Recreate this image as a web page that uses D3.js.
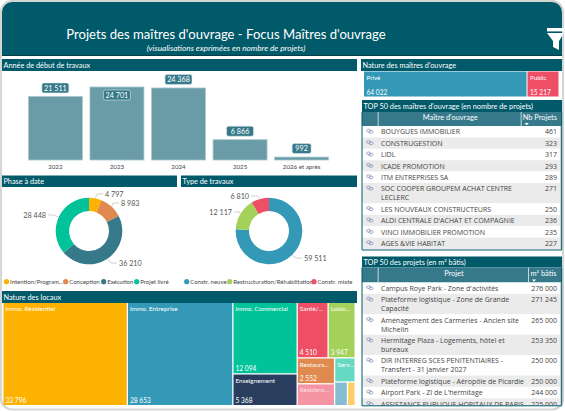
<!DOCTYPE html>
<html><head><meta charset="utf-8">
<script src="https://cdn.jsdelivr.net/npm/d3@7"></script>
<style>html,body{margin:0;padding:0;background:#fff;overflow:hidden}svg{display:block}text{font-family:Lato,"Open Sans",sans-serif}text.cell{font-family:"Open Sans",sans-serif}</style>
</head><body><svg id="c" width="565" height="412"></svg>
<script>
const titleMain="Projets des maîtres d'ouvrage - Focus Maîtres d'ouvrage";
const titleSub="(visualisations exprimées en nombre de projets)";
const yearCats=["2022","2023","2024","2025","2026 et après"];
const yearVals=[21511,24701,24368,6866,992];
const phaseCats=["Intention/Program...","Conception","Exécution","Projet livré"];
const phaseVals=[4797,8983,36210,28448];
const phaseCols=["#fdb100","#e08a50","#35798a","#00c39a"];
const typeCats=["Constr. neuve","Restructuration/Réhabilitation","Constr. mixte"];
const typeVals=[59511,12117,6810];
const typeCols=["#3498b7","#a3d15a","#ee4e66"];
const ownerCats=["Privé","Public"];
const ownerVals=[64022,15217];
const ownerCols=["#3498b7","#ee4e66"];
const topOwners=["BOUYGUES IMMOBILIER","CONSTRUGESTION","LIDL","ICADE PROMOTION","ITM ENTREPRISES SA","SOC COOPER GROUPEM ACHAT CENTRE LECLERC","LES NOUVEAUX CONSTRUCTEURS","ALDI CENTRALE D'ACHAT ET COMPAGNIE","VINCI IMMOBILIER PROMOTION","AGES &VIE HABITAT"];
const topOwnerVals=[461,323,317,293,289,271,250,236,235,227];
const topProjects=["Campus Roye Park - Zone d'activités","Plateforme logistique - Zone de Grande Capacité","Aménagement des Carmeries - Ancien site Michelin","Hermitage Plaza - Logements, hôtel et bureaux","DIR INTERREG SCES PENITENTIAIRES - Transfert - 31 janvier 2027","Plateforme logistique - Aéropôle de Picardie","Airport Park - ZI de L'hermitage","ASSISTANCE PUBLIQUE HOPITAUX DE PARIS -"];
const topProjectVals=[276000,271245,265000,253350,250000,250000,244000,225000];
const fmt=v=>String(v).replace(/\B(?=(\d{3})+$)/g," ");
const TEAL="#015a69",MID="#35798a",BAR="#6a9ca8";
const svg=d3.select("#c");
// frame
svg.append("rect").attr("width",565).attr("height",412).attr("fill","#fff");
svg.append("rect").attr("x",1).attr("y",1).attr("width",562).attr("height",408.5).attr("rx",11).attr("fill","#fff").attr("stroke","#d6d6d2").attr("stroke-width",2.2);
const defs=svg.append("defs");
defs.append("clipPath").attr("id","hc").append("path").attr("d","M2,56V12A10,10 0 0 1 12,2H552A10,10 0 0 1 562,12V56Z");
defs.append("clipPath").attr("id","t1").append("rect").attr("x",362).attr("y",112).attr("width",200).attr("height",137.5);
defs.append("clipPath").attr("id","t2").append("rect").attr("x",362).attr("y",267).attr("width",200).attr("height",138.5);
const hdr=svg.append("g").attr("clip-path","url(#hc)");
hdr.append("rect").attr("x",2).attr("y",2).attr("width",560).attr("height",54).attr("fill",TEAL);
hdr.append("rect").attr("x",2).attr("y",55).attr("width",560).attr("height",1).attr("fill","#0b3b46");
svg.append("text").attr("x",226).attr("y",38.5).attr("text-anchor","middle").attr("fill","#fff").attr("font-size",13.1).text(titleMain);
svg.append("text").attr("x",226).attr("y",50.5).attr("text-anchor","middle").attr("fill","#fff").attr("font-size",8.2).attr("font-style","italic").text(titleSub);
svg.append("rect").attr("x",547).attr("y",28).attr("width",17).attr("height",3.4).attr("fill","#fff");
svg.append("path").attr("d",d3.line()([[547,33],[564,33],[559,41],[559,50],[553,47],[553,41]])+"Z").attr("fill","#fff");
function section(x,y,w,h,t){
 svg.append("rect").attr("x",x).attr("y",y).attr("width",w).attr("height",h).attr("fill",TEAL);
 svg.append("text").attr("x",x+1.5).attr("y",y+h/2+2.7).attr("fill","#fff").attr("font-size",7.3).text(t);
}
section(2,59,355,12,"Année de début de travaux");
section(2,175.5,175,11.5,"Phase à date");
section(181,175.5,176,11.5,"Type de travaux");
section(2,291,355,12,"Nature des locaux");
section(361,59,201,12,"Nature des maîtres d'ouvrage");
section(362,100,200,12,"TOP 50 des maîtres d'ouvrage (en nombre de projets)");
section(362,256.5,200,11,"TOP 50 des projets (en m² bâtis)");
// bars
const xB=d3.scaleBand().domain(yearCats).range([25,332]).paddingInner(0.123).paddingOuter(0.055);
const yB=d3.scaleLinear().domain([0,24701]).range([160,87]);
const bg=svg.append("g");
bg.selectAll("rect").data(yearVals).join("rect").attr("x",(d,i)=>xB(yearCats[i])).attr("y",d=>yB(d)).attr("width",xB.bandwidth()).attr("height",d=>160-yB(d)).attr("fill",BAR).attr("stroke","#a9c8cf").attr("stroke-width",.8);
const labelOffset=[-8.5,8,-8.5,-8.5,-8.5];
yearVals.forEach((v,i)=>{
 const cx=xB(yearCats[i])+xB.bandwidth()/2,cy=yB(v)+labelOffset[i],w=fmt(v).length>3?27:19;
 svg.append("rect").attr("x",cx-w/2).attr("y",cy-5).attr("width",w).attr("height",10).attr("rx",2).attr("fill",MID).attr("stroke","#dbe8eb").attr("stroke-width",.6);
 svg.append("text").attr("x",cx).attr("y",cy+2.6).attr("text-anchor","middle").attr("fill","#fff").attr("font-size",7.2).text(fmt(v));
 svg.append("text").attr("x",cx).attr("y",168.5).attr("text-anchor","middle").attr("fill","#444").attr("font-size",6.2).text(yearCats[i]);
});
// donuts
function donut(cx,cy,vals,cols,ends){
 const arcs=d3.pie().sort(null)(vals);
 const arc=d3.arc().innerRadius(20).outerRadius(33.3);
 const lead=d3.arc().innerRadius(33.8).outerRadius(33.8);
 const g=svg.append("g").attr("transform",`translate(${cx},${cy})`);
 g.selectAll("path.s").data(arcs).join("path").attr("class","s").attr("d",arc).attr("fill",(d,i)=>cols[i]);
 arcs.forEach((a,i)=>{
  const p=lead.centroid(a),e=ends[i],right=e[0]>0;
  const kink=[e[0]+(right?-6:6),e[1]];
  g.append("path").attr("d",d3.line()([p,kink,[e[0],e[1]]])).attr("fill","none").attr("stroke","#bbb").attr("stroke-width",.7);
  g.append("text").attr("x",e[0]+(right?2:-2)).attr("y",e[1]+2.7).attr("text-anchor",right?"start":"end").attr("fill","#555").attr("font-size",7.2).text(fmt(vals[i]));
 });
}
donut(89,231,phaseVals,phaseCols,[[14,-37],[30,-28],[28,32],[-41,-16]]);
donut(269,231,typeVals,typeCols,[[33,27],[-35,-19],[-18,-35]]);
function legend(cats,cols,xs){cats.forEach((c,i)=>{
 svg.append("circle").attr("cx",xs[i]).attr("cy",281.7).attr("r",2.6).attr("fill",cols[i]);
 svg.append("text").attr("x",xs[i]+3.5).attr("y",284).attr("fill","#444").attr("font-size",6).text(c);
});}
legend(phaseCats,phaseCols,[6.5,65.7,103.7,136.7]);
legend(typeCats,typeCols,[186.7,229.7,314]);
// treemap
const tree={name:"root",children:[
 {name:"Immo. Résidentiel",value:33796},
 {name:"Immo. Entreprise",value:28653},
 {children:[{name:"Immo. Commercial",value:12094},{name:"Enseignement",value:5368}]},
 {children:[
  {children:[{name:"Santé/...",value:4510},{name:"Loisir...",value:3947}]},
  {children:[
   {children:[{name:"Restaura...",value:2552},{name:"Résidenc...",value:2150,hide:true}]},
   {children:[{name:"Serv...",value:1300,hide:true},{children:[{name:"",value:800,hide:true},{name:"",value:480,hide:true}]}]}
  ]}
 ]}
]};
const treeCols=["#fdb100","#3498b7","#00c39a","#293d5f","#ee4e66","#a3d15a","#e08a50","#f594a3","#66d9c3","#85bdd3","#fecd66"];
const root=d3.hierarchy(tree).sum(d=>d.value||0);
d3.treemap().tile(d3.treemapSliceDice).size([351,102]).paddingInner(1.3).round(false)(root);
const tg=svg.append("g").attr("transform","translate(3.5,303)");
root.leaves().forEach((l,i)=>{
 const w=l.x1-l.x0,h=l.y1-l.y0;
 tg.append("rect").attr("x",l.x0).attr("y",l.y0).attr("width",w).attr("height",h).attr("fill",treeCols[i]);
 if(l.data.name) tg.append("text").attr("x",l.x0+2).attr("y",l.y0+8).attr("fill","#fff").attr("font-size",6.4).attr("fill-opacity",i===7?.75:1).text(l.data.name);
 if(!l.data.hide) tg.append("text").attr("x",l.x0+2).attr("y",l.y1-2.5).attr("fill","#fff").attr("font-size",6.6).text(fmt(l.data.value));
});
// owner nature cards
const xO=d3.scaleLinear().domain([0,ownerVals[0],d3.sum(ownerVals)]).range([364,527.5,559.5]);
let acc=0;
ownerVals.forEach((v,i)=>{
 const x0=xO(acc),x1=xO(acc+v);acc+=v;
 svg.append("rect").attr("x",x0).attr("y",71.5).attr("width",x1-x0-1).attr("height",25).attr("fill",ownerCols[i]);
 svg.append("text").attr("x",x0+2.5).attr("y",80).attr("fill","#fff").attr("font-size",6.2).text(ownerCats[i]);
 svg.append("text").attr("x",x0+2.5).attr("y",94.5).attr("fill","#fff").attr("font-size",6.6).text(fmt(v));
});
// tables
function table(top,headH,sep2,h1,h2,names,vals,clip,bottom,fs){
 svg.append("rect").attr("x",362).attr("y",top).attr("width",200).attr("height",headH).attr("fill",MID);
 [377.7,sep2].forEach(x=>svg.append("rect").attr("x",x).attr("y",top).attr("width",.9).attr("height",headH).attr("fill","#d5e2e5"));
 const hCx=(377.7+sep2)/2+1;
 svg.append("text").attr("x",hCx).attr("y",top+8).attr("text-anchor","middle").attr("fill","#fff").attr("font-size",7.4).text(h1);
 svg.append("text").attr("x",(sep2+558)/2+.5).attr("y",top+8).attr("text-anchor","middle").attr("fill","#fff").attr("font-size",7.4).text(h2);
 const ax=sep2+6;
 svg.append("path").attr("d",d3.line()([[ax-2.2,top+headH-3],[ax+2.2,top+headH-3],[ax,top+headH-.8]])+"Z").attr("fill","#fff");
 const g=svg.append("g").attr("clip-path",`url(#${clip})`);
 let y=top+headH;
 const lineH=9;
 names.forEach((n,i)=>{
  const rg=g.append("g");
  const bgRect=rg.append("rect").attr("x",362).attr("y",y).attr("width",198).attr("fill",i%2?"#ebebeb":"#fff");
  const t=rg.append("text").attr("class","cell").attr("x",381).attr("y",y+8.3).attr("fill","#444").attr("font-size",fs);
  const words=n.split(" ");let cur=[],lines=[];
  const maxW=sep2-381-1;
  const probe=t.append("tspan");
  words.forEach(w=>{
   probe.text([...cur,w].join(" "));
   if(probe.node().getComputedTextLength()>maxW&&cur.length){lines.push(cur.join(" "));cur=[w];}else cur.push(w);
  });
  lines.push(cur.join(" "));probe.remove();
  lines.forEach((l,k)=>t.append("tspan").attr("x",381).attr("dy",k?lineH:0).text(l));
  const h=lines.length>1?11.4+lineH:11.4;
  bgRect.attr("height",h);
  rg.append("ellipse").attr("cx",368.6).attr("cy",y+4.6).attr("rx",2).attr("ry",1.4).attr("fill","none").attr("stroke","#8794b5").attr("stroke-width",.8);
  rg.append("ellipse").attr("cx",371).attr("cy",y+5.8).attr("rx",2).attr("ry",1.4).attr("fill","none").attr("stroke","#8794b5").attr("stroke-width",.8);
  rg.append("text").attr("class","cell").attr("x",557).attr("y",y+8.3).attr("text-anchor","end").attr("fill","#444").attr("font-size",fs).text(fmt(vals[i]));
  y+=h;
 });
 g.append("rect").attr("x",560).attr("y",top+headH).attr("width",1.5).attr("height",bottom-top-headH).attr("fill","#cfcfcf");
 svg.append("path").attr("d",d3.line()([[362,top],[362,bottom],[561.7,bottom],[561.7,top]])).attr("fill","none").attr("stroke",TEAL).attr("stroke-width",1);
}
table(112,14,520.7,"Maître d'ouvrage","Nb Projets",topOwners,topOwnerVals,"t1",250,7);
table(267.5,15,528,"Projet","m² bâtis",topProjects,topProjectVals,"t2",405.8,7);
</script></body></html>
